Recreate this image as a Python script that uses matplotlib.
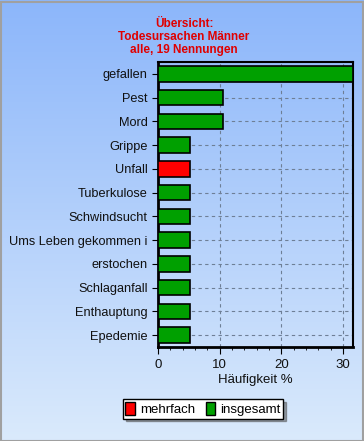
import numpy as np
import matplotlib
matplotlib.use("Agg")
import matplotlib.pyplot as plt
from matplotlib.patches import Patch, Rectangle
from matplotlib.ticker import MultipleLocator

categories = ["gefallen", "Pest", "Mord", "Grippe", "Unfall", "Tuberkulose",
              "Schwindsucht", "Ums Leben gekommen i", "erstochen", "Schlaganfall",
              "Enthauptung", "Epedemie"]
values = [31.58, 10.53, 10.53, 5.26, 5.26, 5.26, 5.26, 5.26, 5.26, 5.26, 5.26, 5.26]
kinds = ["insgesamt", "insgesamt", "insgesamt", "insgesamt", "mehrfach", "insgesamt",
         "insgesamt", "insgesamt", "insgesamt", "insgesamt", "insgesamt", "insgesamt"]
title = "Übersicht:\nTodesursachen Männer\nalle, 19 Nennungen"
xlabel = "Häufigkeit %"
colors_map = {"mehrfach": "#ff0000", "insgesamt": "#00a000"}

plt.rcParams['font.family'] = ['Liberation Sans', 'DejaVu Sans']

W, H = 364, 441
fig = plt.figure(figsize=(W/100, H/100), dpi=100)

# background gradient
bg = fig.add_axes([0, 0, 1, 1], zorder=-10)
top = np.array([140, 182, 250]) / 255
bot = np.array([218, 234, 252]) / 255
t = np.linspace(0, 1, 256)[:, None]
grad = top[None, :] * (1 - t) + bot[None, :] * t
bg.imshow(grad[:, None, :], aspect='auto', extent=[0, 1, 0, 1])
bg.set_xlim(0, 1); bg.set_ylim(0, 1)
bg.axis('off')
bg.add_patch(Rectangle((0.5/W, 0.5/H), 1 - 2/W, 1 - 2/H, fill=False,
                       edgecolor='#a0a0a0', lw=1.5, transform=bg.transAxes))

ax = fig.add_axes([158/W, 1 - 347/H, (353-158)/W, (347-62)/H])
ax.patch.set_alpha(0)
y = np.arange(len(categories))
ax.barh(y, values, height=0.65, color=[colors_map[k] for k in kinds],
        edgecolor='black', linewidth=1.2, zorder=3)
ax.set_ylim(len(categories) - 0.5, -0.5)
ax.set_xlim(0, 31.6)
ax.set_yticks(y)
ax.set_yticklabels(categories, fontsize=9.2, color='#101010')
ax.set_xticks([0, 10, 20, 30])
ax.xaxis.set_minor_locator(MultipleLocator(2))
ax.tick_params(axis='x', which='major', length=5, labelsize=9.5, labelcolor='#101010')
ax.tick_params(axis='x', which='minor', length=2.5)
ax.tick_params(axis='y', length=4)
ax.grid(True, which='major', axis='both', linestyle=(0, (3, 3)), color='#6e7f96',
        linewidth=0.8, zorder=0)
ax.set_axisbelow(True)
for s in ['left', 'bottom']:
    ax.spines[s].set_linewidth(2)
for s in ['top', 'right']:
    ax.spines[s].set_linewidth(1.5)
ax.set_xlabel(xlabel, fontsize=9.5, color='#101010', labelpad=2)

fig.text(184/W, 1 - 37/H, title, ha='center', va='center', color='#e00000',
         fontsize=8.5, fontweight='bold', linespacing=1.1)

handles = [Patch(facecolor=colors_map["mehrfach"], edgecolor='black', label='mehrfach'),
           Patch(facecolor=colors_map["insgesamt"], edgecolor='black', label='insgesamt')]
leg = fig.legend(handles=handles, loc='center', bbox_to_anchor=(203/W, 1 - 409/H),
                 ncol=2, fontsize=9.5, frameon=True, fancybox=False, shadow=True,
                 edgecolor='black', handlelength=0.7, handleheight=1.1,
                 handletextpad=0.4, columnspacing=0.8, borderpad=0.2)
leg.get_frame().set_linewidth(1)

fig.savefig("out.png", dpi=100)
